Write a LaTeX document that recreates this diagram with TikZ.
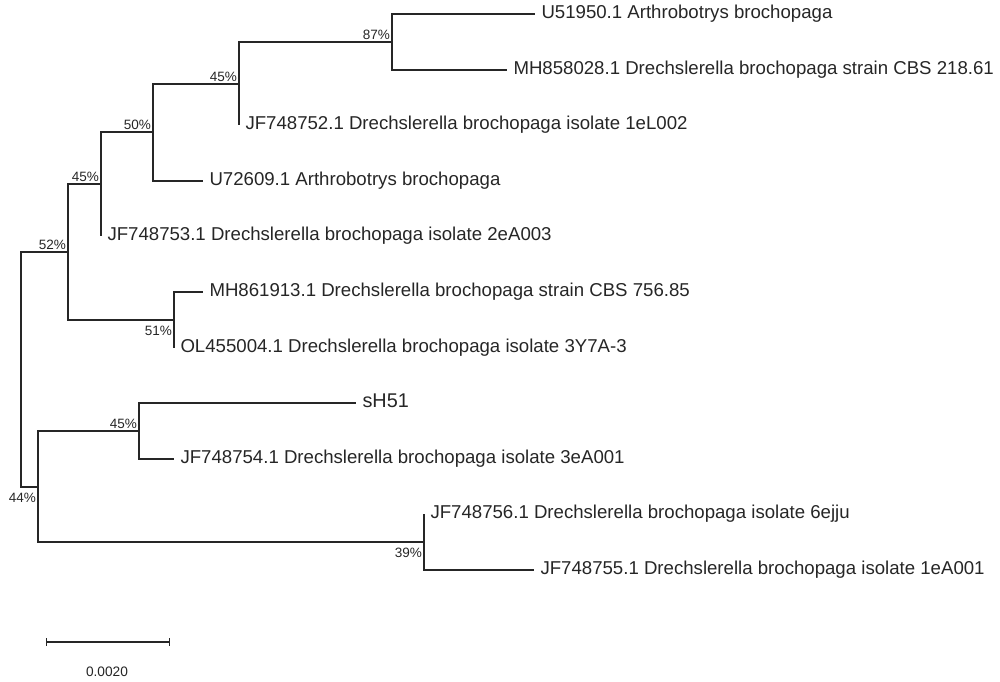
\documentclass[tikz,border=0pt]{standalone}
\usepackage{fontspec}
\setmainfont{Liberation Sans}
\usetikzlibrary{arrows.meta}

\begin{document}
\begin{tikzpicture}[
  x=0.02cm, y=-0.02cm,
  branch/.style={draw=black!85, line width=0.7pt},
  taxon/.style={anchor=mid west, inner xsep=3.5pt, inner ysep=0pt, text=black!85, font=\fontsize{10.6}{12}\selectfont},
  query/.style={taxon, font=\fontsize{11.3}{13}\selectfont},
  boot/.style={inner sep=1pt, text=black!85, font=\fontsize{7.7}{9}\selectfont},
  bootup/.style={boot, anchor=south east},
  bootdown/.style={boot, anchor=north east, yshift=-2pt},
  scalebar/.style={branch, arrows={Bar[width=4.5pt]-Bar[width=4.5pt]}}
]
\useasboundingbox (0,0) rectangle (1000,681);

\coordinate (root) at (21,369);
\coordinate (n52) at (68,252);
\coordinate (n45b) at (101,184);
\coordinate (n50) at (153,132);
\coordinate (n45a) at (239,84);
\coordinate (n87) at (392,42);
\coordinate (n51) at (174,320);
\coordinate (n44) at (38,487);
\coordinate (n45c) at (139,431);
\coordinate (n39) at (424,542);

\node[taxon] (u51950) at (535,14) {U51950.1 Arthrobotrys brochopaga};
\node[taxon] (mh858028) at (507,70) {MH858028.1 Drechslerella brochopaga strain CBS 218.61};
\node[taxon] (jf748752) at (239,125) {JF748752.1 Drechslerella brochopaga isolate 1eL002};
\node[taxon] (u72609) at (203,181) {U72609.1 Arthrobotrys brochopaga};
\node[taxon] (jf748753) at (101,236) {JF748753.1 Drechslerella brochopaga isolate 2eA003};
\node[taxon] (mh861913) at (203,292) {MH861913.1 Drechslerella brochopaga strain CBS 756.85};
\node[taxon] (ol455004) at (174,348) {OL455004.1 Drechslerella brochopaga isolate 3Y7A-3};
\node[query] (sh51) at (356,403) {sH51};
\node[taxon] (jf748754) at (174,459) {JF748754.1 Drechslerella brochopaga isolate 3eA001};
\node[taxon] (jf748756) at (424,514) {JF748756.1 Drechslerella brochopaga isolate 6ejju};
\node[taxon] (jf748755) at (534,570) {JF748755.1 Drechslerella brochopaga isolate 1eA001};

\draw[branch] (root) |- (n52);
\draw[branch] (root) |- (n44);
\draw[branch] (n52) |- (n45b);
\draw[branch] (n52) |- (n51);
\draw[branch] (n45b) |- (n50);
\draw[branch] (n45b) |- (jf748753.mid west);
\draw[branch] (n50) |- (n45a);
\draw[branch] (n50) |- (u72609.mid west);
\draw[branch] (n45a) |- (n87);
\draw[branch] (n45a) |- (jf748752.mid west);
\draw[branch] (n87) |- (u51950.mid west);
\draw[branch] (n87) |- (mh858028.mid west);
\draw[branch] (n51) |- (mh861913.mid west);
\draw[branch] (n51) |- (ol455004.mid west);
\draw[branch] (n44) |- (n45c);
\draw[branch] (n44) |- (n39);
\draw[branch] (n45c) |- (sh51.mid west);
\draw[branch] (n45c) |- (jf748754.mid west);
\draw[branch] (n39) |- (jf748756.mid west);
\draw[branch] (n39) |- (jf748755.mid west);

\node[bootup] (b87) at (n87) {87\%};
\node[bootup] (b45a) at (n45a) {45\%};
\node[bootup] (b50) at (n50) {50\%};
\node[bootup] (b45b) at (n45b) {45\%};
\node[bootup] (b52) at (n52) {52\%};
\node[bootdown] (b51) at (n51) {51\%};
\node[bootdown] (b44) at (n44) {44\%};
\node[bootup] (b45c) at (n45c) {45\%};
\node[bootdown] (b39) at (n39) {39\%};

\coordinate (sbleft) at (46,642);
\coordinate (sbright) at (170,642);
\draw[scalebar] (sbleft) -- (sbright);
\node[boot, font=\fontsize{7.8}{9}\selectfont] (sbvalue) at (107,672) {0.0020};
\end{tikzpicture}
\end{document}
